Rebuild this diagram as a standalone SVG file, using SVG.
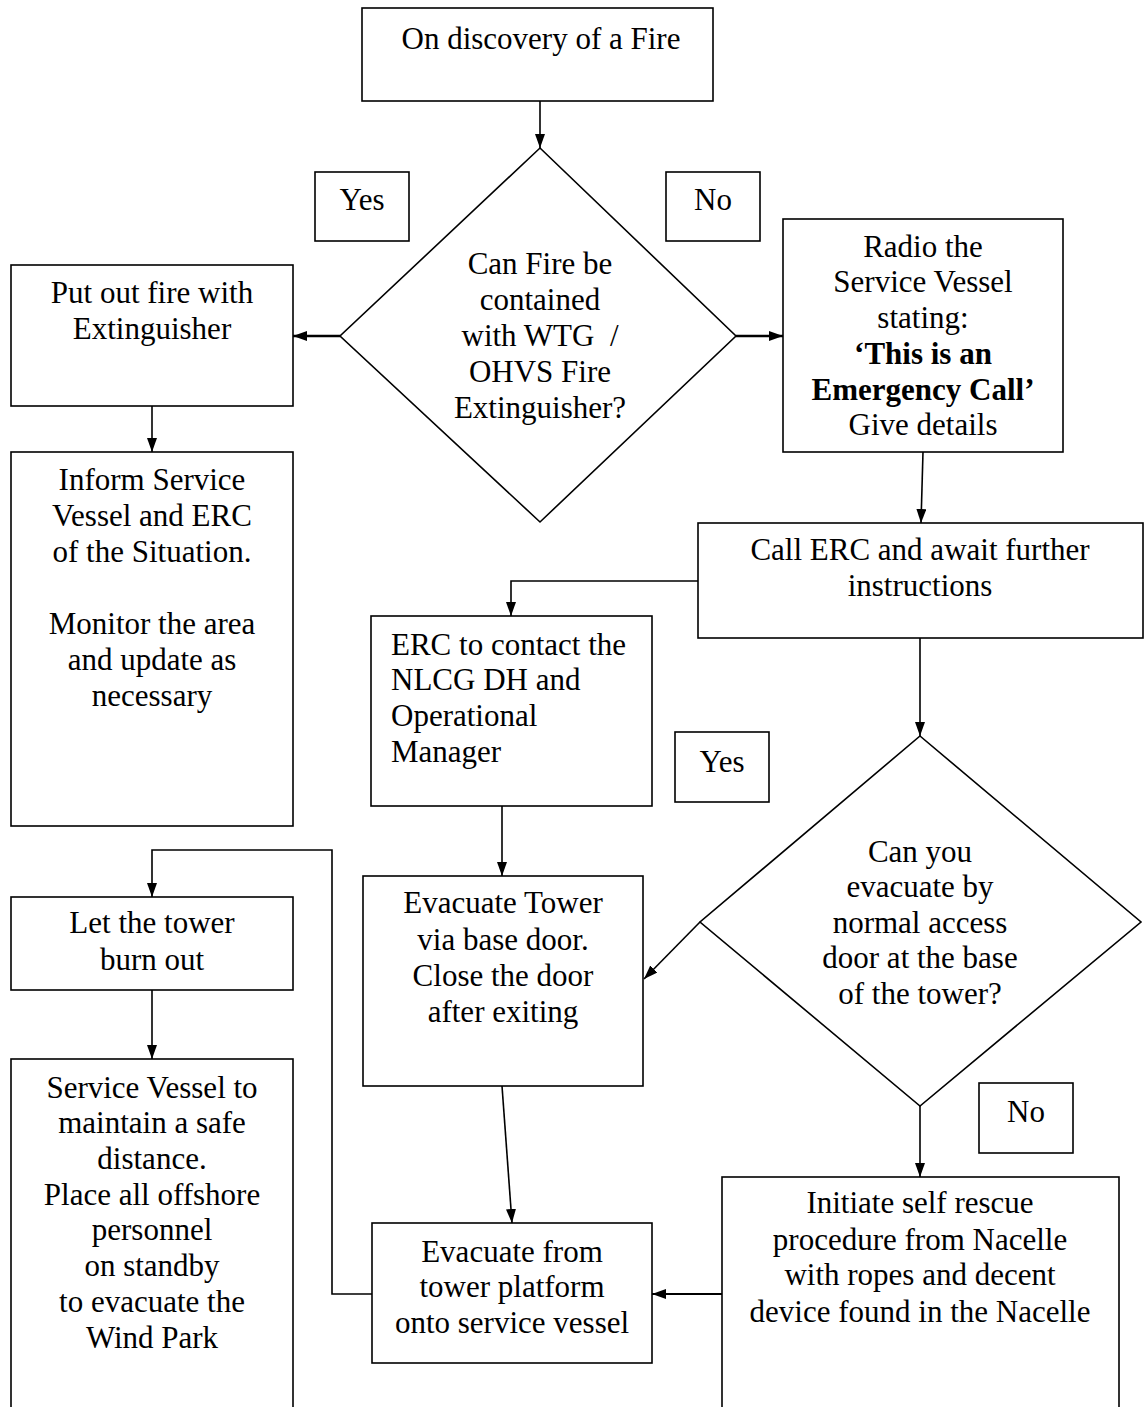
<svg xmlns="http://www.w3.org/2000/svg" width="1144" height="1407" viewBox="0 0 1144 1407">
<defs>
<marker id="ah" viewBox="0 0 14 10" refX="14" refY="5" markerWidth="14" markerHeight="10" markerUnits="userSpaceOnUse" orient="auto">
<path d="M0,0 L14,5 L0,10 Z" fill="#000"/>
</marker>
</defs>
<style>
.b{fill:#fff;stroke:#000;stroke-width:1.6}
.c{fill:none;stroke:#000;stroke-width:1.6}
text{font-family:"Liberation Serif","Times New Roman",serif;font-size:31px;fill:#000}
.m{text-anchor:middle}
.bold{font-weight:bold}
</style>
<rect width="1144" height="1407" fill="#fff"/>
<g id="connectors">
<line class="c" x1="540" y1="101" x2="540" y2="148" marker-end="url(#ah)"/>
<line class="c" x1="340" y1="336" x2="293" y2="336" marker-end="url(#ah)" style="stroke-width:2.5"/>
<line class="c" x1="736" y1="336" x2="783" y2="336" marker-end="url(#ah)" style="stroke-width:2.5"/>
<line class="c" x1="152" y1="406" x2="152" y2="452" marker-end="url(#ah)"/>
<line class="c" x1="923" y1="452" x2="921" y2="523" marker-end="url(#ah)"/>
<polyline class="c" points="698,581 511,581 511,616" marker-end="url(#ah)"/>
<line class="c" x1="920" y1="638" x2="920" y2="736" marker-end="url(#ah)"/>
<line class="c" x1="502" y1="806" x2="502" y2="876" marker-end="url(#ah)"/>
<line class="c" x1="700" y1="922" x2="644" y2="979" marker-end="url(#ah)"/>
<line class="c" x1="502" y1="1086" x2="512" y2="1223" marker-end="url(#ah)"/>
<line class="c" x1="920" y1="1106" x2="920" y2="1177" marker-end="url(#ah)"/>
<line class="c" x1="722" y1="1294" x2="652" y2="1294" marker-end="url(#ah)" style="stroke-width:2.2"/>
<polyline class="c" points="372,1294 332,1294 332,850 152,850 152,897" marker-end="url(#ah)"/>
<line class="c" x1="152" y1="990" x2="152" y2="1059" marker-end="url(#ah)"/>
</g>
<g id="start">
<rect class="b" x="362" y="8" width="351" height="93"/>
<text class="m" x="541" y="49">On discovery of a Fire</text>
</g>
<g id="decision1">
<polygon class="b" points="540,148 736,336 540,522 340,336"/>
<text class="m" x="540" y="274">Can Fire be</text>
<text class="m" x="540" y="310">contained</text>
<text class="m" x="540" y="346" xml:space="preserve">with WTG  /</text>
<text class="m" x="540" y="382">OHVS Fire</text>
<text class="m" x="540" y="418">Extinguisher?</text>
</g>
<g id="yes1">
<rect class="b" x="315" y="172" width="94" height="69"/>
<text class="m" x="362" y="210">Yes</text>
</g>
<g id="no1">
<rect class="b" x="666" y="172" width="94" height="69"/>
<text class="m" x="713" y="210">No</text>
</g>
<g id="putout">
<rect class="b" x="11" y="265" width="282" height="141"/>
<text class="m" x="152" y="303">Put out fire with</text>
<text class="m" x="152" y="339">Extinguisher</text>
</g>
<g id="radio">
<rect class="b" x="783" y="219" width="280" height="233"/>
<text class="m" x="923" y="257">Radio the</text>
<text class="m" x="923" y="292">Service Vessel</text>
<text class="m" x="923" y="328">stating:</text>
<text class="m bold" x="923" y="364">‘This is an</text>
<text class="m bold" x="923" y="400">Emergency Call’</text>
<text class="m" x="923" y="435">Give details</text>
</g>
<g id="inform">
<rect class="b" x="11" y="452" width="282" height="374"/>
<text class="m" x="152" y="490">Inform Service</text>
<text class="m" x="152" y="526">Vessel and ERC</text>
<text class="m" x="152" y="562">of the Situation.</text>
<text class="m" x="152" y="634">Monitor the area</text>
<text class="m" x="152" y="670">and update as</text>
<text class="m" x="152" y="706">necessary</text>
</g>
<g id="callerc">
<rect class="b" x="698" y="523" width="445" height="115"/>
<text class="m" x="920" y="560">Call ERC and await further</text>
<text class="m" x="920" y="596">instructions</text>
</g>
<g id="erccontact">
<rect class="b" x="371" y="616" width="281" height="190"/>
<text x="391" y="655">ERC to contact the</text>
<text x="391" y="690">NLCG DH and</text>
<text x="391" y="726">Operational</text>
<text x="391" y="762">Manager</text>
</g>
<g id="yes2">
<rect class="b" x="675" y="732" width="94" height="70"/>
<text class="m" x="722" y="772">Yes</text>
</g>
<g id="decision2">
<polygon class="b" points="920,736 1141,922 920,1106 700,922"/>
<text class="m" x="920" y="862">Can you</text>
<text class="m" x="920" y="897">evacuate by</text>
<text class="m" x="920" y="933">normal access</text>
<text class="m" x="920" y="968">door at the base</text>
<text class="m" x="920" y="1004">of the tower?</text>
</g>
<g id="no2">
<rect class="b" x="979" y="1083" width="94" height="70"/>
<text class="m" x="1026" y="1122">No</text>
</g>
<g id="evactower">
<rect class="b" x="363" y="876" width="280" height="210"/>
<text class="m" x="503" y="913">Evacuate Tower</text>
<text class="m" x="503" y="950">via base door.</text>
<text class="m" x="503" y="986">Close the door</text>
<text class="m" x="503" y="1022">after exiting</text>
</g>
<g id="burnout">
<rect class="b" x="11" y="897" width="282" height="93"/>
<text class="m" x="152" y="933">Let the tower</text>
<text class="m" x="152" y="970">burn out</text>
</g>
<g id="vessel">
<rect class="b" x="11" y="1059" width="282" height="370"/>
<text class="m" x="152" y="1098">Service Vessel to</text>
<text class="m" x="152" y="1133">maintain a safe</text>
<text class="m" x="152" y="1169">distance.</text>
<text class="m" x="152" y="1205">Place all offshore</text>
<text class="m" x="152" y="1240">personnel</text>
<text class="m" x="152" y="1276">on standby</text>
<text class="m" x="152" y="1312">to evacuate the</text>
<text class="m" x="152" y="1348">Wind Park</text>
</g>
<g id="evacfrom">
<rect class="b" x="372" y="1223" width="280" height="140"/>
<text class="m" x="512" y="1262">Evacuate from</text>
<text class="m" x="512" y="1297">tower platform</text>
<text class="m" x="512" y="1333">onto service vessel</text>
</g>
<g id="selfrescue">
<rect class="b" x="722" y="1177" width="397" height="250"/>
<text class="m" x="920" y="1213">Initiate self rescue</text>
<text class="m" x="920" y="1250">procedure from Nacelle</text>
<text class="m" x="920" y="1285">with ropes and decent</text>
<text class="m" x="920" y="1322">device found in the Nacelle</text>
</g>
</svg>
